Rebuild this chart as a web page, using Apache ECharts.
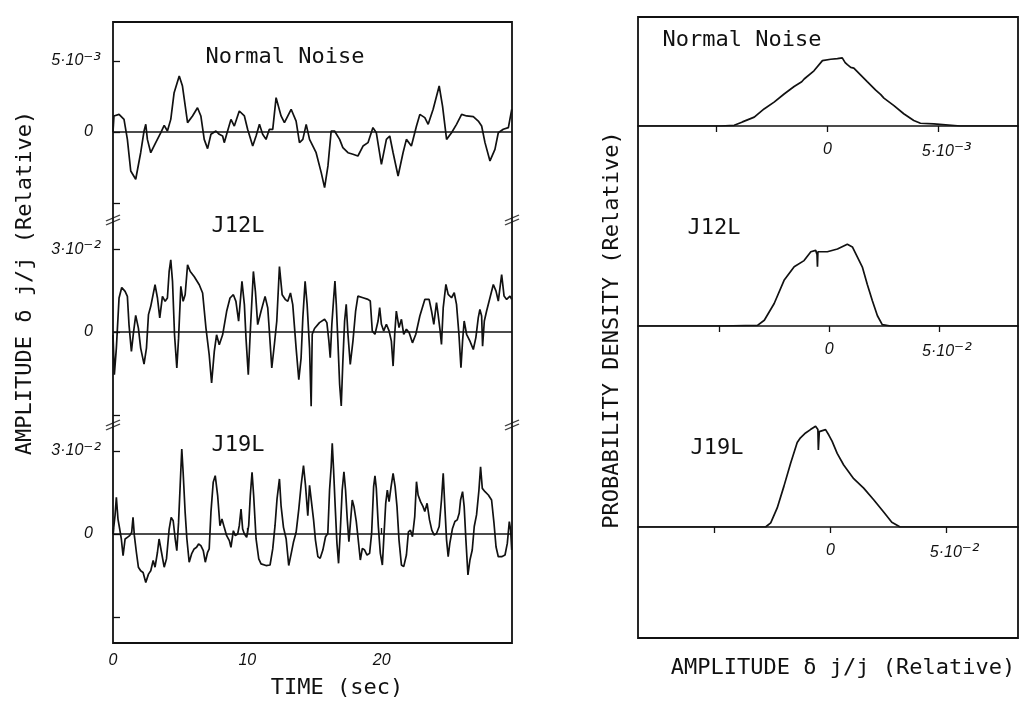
<!DOCTYPE html>
<html><head><meta charset="utf-8">
<script src="https://cdn.jsdelivr.net/npm/echarts@6/dist/echarts.min.js"></script>
<style>html,body{margin:0;padding:0;background:#fff}#c{width:1019px;height:701px}</style>
</head><body><div id="c"></div>
<script>
// ---------- DATA ----------
// time traces: [time (sec), amplitude] ; Normal Noise in 1e-3 units, J12L / J19L in 1e-2 units
const noiseTrace = [[0,0],[0.07,1.13],[0.45,1.24],[0.82,0.89],[1.07,-0.52],[1.32,-2.75],[1.69,-3.33],[2.06,-1.46],[2.31,0.07],[2.44,0.54],[2.56,-0.52],[2.81,-1.46],[3.18,-0.75],[3.56,-0.05],[3.81,0.47],[4.05,0.07],[4.30,0.89],[4.55,2.77],[4.93,3.94],[5.17,3.24],[5.55,0.66],[5.92,1.13],[6.29,1.71],[6.54,1.13],[6.79,-0.52],[7.04,-1.17],[7.29,-0.16],[7.66,0.07],[7.91,-0.16],[8.16,-0.28],[8.28,-0.75],[8.53,0.07],[8.78,0.89],[9.03,0.42],[9.40,1.48],[9.78,1.13],[10.02,0.19],[10.40,-0.99],[10.65,-0.28],[10.90,0.54],[11.14,-0.16],[11.39,-0.52],[11.64,0.19],[11.89,0.19],[12.14,2.42],[12.51,1.13],[12.76,0.66],[13.26,1.60],[13.63,0.77],[13.88,-0.75],[14.13,-0.52],[14.38,0.54],[14.63,-0.52],[14.88,-0.99],[15.12,-1.46],[15.50,-2.86],[15.75,-3.92],[16.00,-2.39],[16.24,0.07],[16.49,0.07],[16.87,-0.52],[17.11,-1.10],[17.49,-1.46],[17.86,-1.57],[18.23,-1.69],[18.61,-0.99],[18.98,-0.75],[19.35,0.31],[19.60,-0.05],[19.98,-2.28],[20.35,-0.52],[20.60,-0.28],[20.85,-1.46],[21.22,-3.10],[21.59,-1.46],[21.84,-0.52],[22.21,-0.99],[22.59,0.42],[22.84,1.24],[23.21,1.01],[23.46,0.54],[23.83,1.60],[24.28,3.24],[24.53,1.83],[24.83,-0.52],[25.20,-0.05],[25.57,0.54],[25.95,1.24],[26.32,1.13],[26.82,1.08],[27.19,0.77],[27.44,0.42],[27.69,-0.75],[28.06,-2.04],[28.43,-1.22],[28.68,-0.05],[29.05,0.19],[29.43,0.31],[29.68,1.60]];

const j12Trace = [[0,-0.10],[0.10,-1.54],[0.25,-0.58],[0.45,1.23],[0.65,1.61],[0.90,1.47],[1.07,1.29],[1.19,0.27],[1.37,-0.70],[1.52,-0.04],[1.69,0.60],[1.89,0.14],[2.06,-0.58],[2.31,-1.16],[2.49,-0.58],[2.64,0.63],[2.81,0.93],[3.13,1.71],[3.31,1.23],[3.48,0.51],[3.68,1.29],[3.88,1.11],[4.05,1.23],[4.18,2.19],[4.30,2.61],[4.43,1.83],[4.58,-0.10],[4.75,-1.30],[4.88,-0.22],[5.05,1.65],[5.22,1.11],[5.37,1.35],[5.55,2.43],[5.75,2.19],[6.04,2.01],[6.42,1.71],[6.67,1.41],[6.92,0.14],[7.16,-0.82],[7.34,-1.84],[7.54,-0.70],[7.71,-0.10],[7.91,-0.46],[8.16,-0.10],[8.46,0.75],[8.71,1.23],[8.96,1.35],[9.15,1.11],[9.35,0.39],[9.60,1.83],[9.78,0.99],[9.90,-0.22],[10.07,-1.54],[10.22,0.02],[10.45,2.19],[10.60,1.47],[10.77,0.27],[11.02,0.75],[11.32,1.29],[11.52,0.87],[11.64,0.02],[11.82,-1.30],[12.01,-0.46],[12.19,0.39],[12.39,2.37],[12.59,1.35],[12.84,1.17],[13.01,1.11],[13.21,1.41],[13.38,0.99],[13.63,-0.58],[13.83,-1.72],[14.00,-0.94],[14.13,0.51],[14.30,1.83],[14.45,0.99],[14.63,-0.58],[14.75,-2.68],[14.83,-0.08],[15.00,0.13],[15.37,0.34],[15.75,0.46],[15.92,0.34],[16.07,-0.33],[16.17,-0.93],[16.29,0.28],[16.42,1.18],[16.52,1.84],[16.62,1.00],[16.74,-0.33],[16.87,-1.89],[16.99,-2.67],[17.11,-1.05],[17.24,0.40],[17.36,1.00],[17.49,-0.08],[17.66,-1.17],[17.86,-0.33],[18.06,0.76],[18.23,1.30],[18.61,1.24],[18.98,1.18],[19.15,1.12],[19.30,0.04],[19.50,-0.08],[19.73,0.40],[19.85,0.88],[19.98,0.28],[20.15,0.04],[20.35,0.28],[20.55,0.04],[20.72,-0.33],[20.85,-1.23],[20.97,-0.08],[21.09,0.76],[21.29,0.16],[21.47,0.46],[21.64,-0.08],[21.84,0.10],[22.04,-0.02],[22.29,-0.39],[22.54,-0.08],[22.84,0.58],[23.21,1.18],[23.53,1.18],[23.71,0.76],[23.88,0.28],[24.08,1.06],[24.20,0.64],[24.35,0.04],[24.45,-0.45],[24.58,0.88],[24.78,1.72],[24.95,1.36],[25.20,1.24],[25.40,1.42],[25.57,1.00],[25.75,-0.08],[25.90,-1.29],[26.02,-0.33],[26.14,0.40],[26.32,-0.08],[26.57,-0.33],[26.82,-0.63],[27.01,-0.20],[27.19,0.52],[27.31,0.82],[27.44,0.58],[27.51,-0.51],[27.64,0.40],[27.81,0.76],[28.06,1.24],[28.31,1.72],[28.51,1.48],[28.68,1.12],[28.93,2.08],[29.11,1.30],[29.30,1.18],[29.55,1.30],[29.68,1.18]];

const j19Trace = [[0,0],[0.15,0.66],[0.25,1.33],[0.37,0.54],[0.50,0.18],[0.62,-0.18],[0.75,-0.78],[0.90,-0.18],[1.07,-0.12],[1.24,-0.06],[1.39,0.06],[1.49,0.60],[1.59,-0.06],[1.74,-0.66],[1.89,-1.20],[2.06,-1.33],[2.24,-1.39],[2.44,-1.75],[2.64,-1.45],[2.81,-1.33],[2.99,-0.96],[3.13,-1.20],[3.31,-0.66],[3.43,-0.18],[3.61,-0.66],[3.81,-1.20],[3.98,-0.90],[4.18,0.18],[4.33,0.60],[4.48,0.48],[4.63,-0.18],[4.75,-0.60],[4.88,0.42],[5.00,1.75],[5.12,3.07],[5.22,2.23],[5.37,0.78],[5.50,-0.18],[5.67,-1.02],[5.85,-0.72],[6.04,-0.54],[6.22,-0.48],[6.37,-0.36],[6.54,-0.42],[6.72,-0.60],[6.87,-1.02],[7.04,-0.66],[7.16,-0.54],[7.29,0.78],[7.46,1.87],[7.61,2.11],[7.79,1.39],[7.96,0.30],[8.11,0.54],[8.28,0.24],[8.46,-0.06],[8.66,-0.24],[8.78,-0.48],[8.96,0.12],[9.10,-0.06],[9.28,0],[9.40,0.30],[9.53,0.90],[9.65,0.18],[9.78,0],[9.95,-0.12],[10.10,0.30],[10.22,1.39],[10.35,2.23],[10.47,1.39],[10.65,-0.18],[10.85,-0.90],[11.02,-1.08],[11.39,-1.14],[11.69,-1.12],[11.89,-0.54],[12.06,0.30],[12.21,1.27],[12.39,1.99],[12.51,1.02],[12.69,0.24],[12.89,-0.18],[13.08,-1.14],[13.26,-0.72],[13.43,-0.30],[13.63,0.06],[13.83,0.90],[14.00,1.75],[14.18,2.47],[14.33,1.75],[14.50,0.66],[14.63,1.76],[14.75,1.77],[14.93,0.51],[15.07,-0.22],[15.25,-0.82],[15.42,-0.88],[15.62,-0.58],[15.82,-0.10],[15.99,0.02],[16.12,1.59],[16.24,2.43],[16.32,3.28],[16.42,2.31],[16.54,0.99],[16.67,-0.34],[16.79,-1.06],[16.91,0.02],[17.06,1.59],[17.19,2.25],[17.31,1.59],[17.44,0.51],[17.56,-0.28],[17.69,0.51],[17.81,1.23],[17.94,0.99],[18.11,0.45],[18.23,-0.10],[18.41,-0.94],[18.56,-0.52],[18.73,-0.58],[18.91,-0.76],[19.10,-0.70],[19.25,0.02],[19.40,1.71],[19.50,2.10],[19.60,1.65],[19.75,0.27],[19.90,-0.70],[20.05,-1.12],[20.15,-0.22],[20.30,1.11],[20.42,1.59],[20.55,1.17],[20.70,1.71],[20.85,2.19],[21.00,1.71],[21.14,0.99],[21.29,-0.22],[21.47,-1.12],[21.64,-1.18],[21.84,-0.76],[21.99,0.08],[22.14,0.14],[22.29,-0.10],[22.46,0.63],[22.59,1.89],[22.71,1.41],[22.89,1.17],[23.08,0.99],[23.21,0.81],[23.38,1.11],[23.56,0.51],[23.73,0.14],[23.91,-0.04],[24.08,0.02],[24.28,0.27],[24.45,1.23],[24.58,2.19],[24.70,0.99],[24.83,-0.22],[24.95,-0.82],[25.07,-0.34],[25.27,0.20],[25.45,0.45],[25.62,0.51],[25.77,0.75],[25.87,1.23],[26.02,1.53],[26.14,0.99],[26.27,-0.22],[26.42,-1.48],[26.57,-0.94],[26.74,-0.58],[26.89,0.27],[27.06,0.69],[27.24,1.59],[27.36,2.43],[27.49,1.65],[27.69,1.53],[27.94,1.41],[28.18,1.23],[28.36,0.39],[28.51,-0.46],[28.68,-0.82],[28.93,-0.82],[29.18,-0.76],[29.35,-0.34],[29.50,0.45],[29.60,0.14],[29.68,-0.58]];

// probability densities: [amplitude, relative density]; Normal Noise amplitude in 1e-3, J12L/J19L in 1e-2
const noiseDensity = [[-8.5,0],[-4.78,0],[-4.18,0.01],[-3.81,0.06],[-3.28,0.13],[-2.84,0.25],[-2.39,0.35],[-1.94,0.47],[-1.49,0.58],[-1.15,0.65],[-1.04,0.69],[-0.60,0.81],[-0.22,0.96],[0.15,0.98],[0.45,0.99],[0.67,1.0],[0.80,0.93],[0.90,0.90],[1.05,0.86],[1.19,0.85],[1.49,0.75],[1.79,0.65],[2.16,0.53],[2.40,0.46],[2.54,0.41],[2.99,0.30],[3.43,0.18],[3.88,0.08],[4.18,0.04],[4.78,0.03],[5.97,0],[8.56,0]];
const j12Density = [[-8.7,0],[-4.92,0],[-3.26,0.01],[-2.95,0.085],[-2.50,0.33],[-2.05,0.67],[-1.59,0.87],[-1.14,0.96],[-0.83,1.09],[-0.61,1.11],[-0.55,1.05],[-0.53,0.87],[-0.51,1.09],[-0.08,1.09],[0.38,1.13],[0.83,1.20],[1.06,1.16],[1.29,1.01],[1.52,0.86],[1.74,0.61],[1.97,0.37],[2.20,0.15],[2.42,0.02],[2.80,0],[8.6,0]];
const j19Density = [[-8.28,0],[-5.0,0],[-2.79,0],[-2.57,0.06],[-2.29,0.28],[-2.0,0.60],[-1.71,0.94],[-1.43,1.24],[-1.29,1.31],[-1.07,1.38],[-0.86,1.43],[-0.64,1.48],[-0.54,1.43],[-0.52,1.13],[-0.48,1.40],[-0.21,1.43],[-0.07,1.35],[0.07,1.26],[0.29,1.08],[0.57,0.91],[1.0,0.71],[1.43,0.57],[1.86,0.40],[2.29,0.22],[2.64,0.07],[3.0,0],[8.07,0]];

// axis ranges / ticks
const timeRange = [0, 29.7];
const timeTicks = [0, 10, 20];
const traceRanges = [[-6.2, 7.75], [-3.36, 4.05], [-3.94, 3.94]];
const traceTicks = [[-5, 0, 5], [-3, 0, 3], [-3, 0, 3]];
const traceTickLabels = [[0, 5], [0, 3], [0, 3]];
const traceExp = ['⁻³', '⁻²', '⁻²'];
const densRanges = [[-8.5, 8.56], [-8.7, 8.6], [-8.28, 8.07]];
const densTicks = [-5, 0, 5];
const densTickLabels = [0, 5];
const densMax = 1.6;
const panelNames = ['Normal Noise', 'J12L', 'J19L'];

// ---------- CHART ----------
const chart = echarts.init(document.getElementById('c'), null, {renderer: 'canvas'});
const INK = '#111111';
const MONO = '"DejaVu Sans Mono", "Liberation Mono", monospace';
const tickRich = () => ({
  a: {fontFamily: 'Liberation Sans', fontStyle: 'italic', fontSize: 16, color: INK},
  s: {fontFamily: 'DejaVu Sans', fontStyle: 'italic', fontSize: 19, color: INK},
  p: {fontFamily: 'Liberation Sans', fontStyle: 'italic', fontSize: 16, color: INK, padding: [0, 0, 0, 16]},
  z: {fontFamily: 'Liberation Sans', fontStyle: 'italic', fontSize: 16, color: INK, padding: [0, 8, 0, 0]}
});

const FRAME = {show: true, borderColor: INK, borderWidth: 1.8, backgroundColor: 'transparent'};
const grids = [
  Object.assign({left: 113, top: 22, width: 399, height: 621}, FRAME),
  {left: 113, top: 22, width: 399, height: 198},
  {left: 113, top: 220, width: 399, height: 205},
  {left: 113, top: 425, width: 399, height: 218},
  Object.assign({left: 638, top: 17, width: 380, height: 621}, FRAME),
  {left: 638, top: 17, width: 380, height: 109},
  {left: 638, top: 217, width: 380, height: 109},
  {left: 638, top: 418, width: 380, height: 109}
];

const xAxes = [], yAxes = [], series = [];
[0, 4].forEach(g => {
  xAxes.push({gridIndex: g, type: 'value', show: false, min: 0, max: 1});
  yAxes.push({gridIndex: g, type: 'value', show: false, min: 0, max: 1});
});
const traces = [noiseTrace, j12Trace, j19Trace];
traces.forEach((tr, i) => {
  const g = i + 1;
  const isBottom = i === 2;
  xAxes.push({
    gridIndex: g, type: 'value', min: timeRange[0], max: timeRange[1], show: isBottom,
    axisLine: {show: false}, splitLine: {show: false},
    axisTick: {show: true, inside: true, length: 6, customValues: timeTicks, lineStyle: {color: INK, width: 1.3}},
    axisLabel: {show: true, customValues: timeTicks, margin: 10, fontFamily: 'Liberation Sans', fontStyle: 'italic', fontSize: 16, color: INK}
  });
  const e = traceExp[i];
  yAxes.push({
    gridIndex: g, type: 'value', min: traceRanges[i][0], max: traceRanges[i][1],
    axisLine: {show: false}, splitLine: {show: false},
    axisTick: {show: true, inside: true, length: 7, customValues: traceTicks[i], lineStyle: {color: INK, width: 1.3}},
    axisLabel: {show: true, customValues: traceTickLabels[i], margin: 12,
      formatter: v => v === 0 ? '{z|0}' : '{a|' + v + '·10}{s|' + e + '}', rich: tickRich()}
  });
});
const dens = [noiseDensity, j12Density, j19Density];
dens.forEach((d, i) => {
  const g = i + 5;
  const e = traceExp[i];
  xAxes.push({
    gridIndex: g, type: 'value', min: densRanges[i][0], max: densRanges[i][1],
    axisLine: {show: true, onZero: false, lineStyle: {color: INK, width: 1.7}}, splitLine: {show: false},
    axisTick: {show: true, inside: false, length: 6, customValues: densTicks, lineStyle: {color: INK, width: 1.3}},
    axisLabel: {show: true, customValues: densTickLabels, margin: 16,
      formatter: v => v === 0 ? '{a|0}' : '{p|' + v + '·10}{s|' + e + '}', rich: tickRich()}
  });
  yAxes.push({gridIndex: g, type: 'value', show: false, min: 0, max: densMax});
});

const lineStyle = {color: INK, width: 1.7};
traces.forEach((tr, i) => {
  series.push({
    type: 'line', xAxisIndex: i + 2, yAxisIndex: i + 2, data: tr, showSymbol: false, symbol: 'none',
    lineStyle, silent: true,
    markLine: {silent: true, symbol: 'none', label: {show: false}, lineStyle: {color: INK, width: 1.7, type: 'solid'}, data: [{yAxis: 0}]}
  });
});
[0, 1].forEach(i => {
  const yb = traceRanges[i][0];
  series.push({
    type: 'scatter', xAxisIndex: i + 2, yAxisIndex: i + 2, clip: false, silent: true, z: 5,
    data: [[timeRange[0], yb], [timeRange[1], yb]],
    symbol: 'path://M0,7 L14,1 M0,11 L14,5', symbolSize: [14, 10],
    itemStyle: {color: 'transparent', borderColor: INK, borderWidth: 1.3}
  });
});
dens.forEach((d, i) => {
  series.push({
    type: 'line', xAxisIndex: i + 5, yAxisIndex: i + 5, data: d, showSymbol: false, symbol: 'none',
    lineStyle, silent: true
  });
});

const txt = (text, x, y, rot) => ({
  type: 'text', x, y, rotation: rot || 0, silent: true,
  style: {text, font: '22px ' + MONO, fill: INK, textAlign: 'center', textVerticalAlign: 'middle', align: 'center', verticalAlign: 'middle'}
});

chart.setOption({
  animation: false,
  backgroundColor: '#fff',
  grid: grids,
  xAxis: xAxes,
  yAxis: yAxes,
  series,
  graphic: [
    txt(panelNames[0], 285, 57), txt(panelNames[1], 238, 226), txt(panelNames[2], 238, 445),
    txt(panelNames[0], 742, 40), txt(panelNames[1], 714, 228), txt(panelNames[2], 717, 448),
    txt('TIME (sec)', 337, 688),
    txt('AMPLITUDE δ j/j (Relative)', 843, 668),
    txt('AMPLITUDE δ j/j (Relative)', 25, 283, Math.PI / 2),
    txt('PROBABILITY DENSITY (Relative)', 612, 330, Math.PI / 2)
  ]
});
</script></body></html>
